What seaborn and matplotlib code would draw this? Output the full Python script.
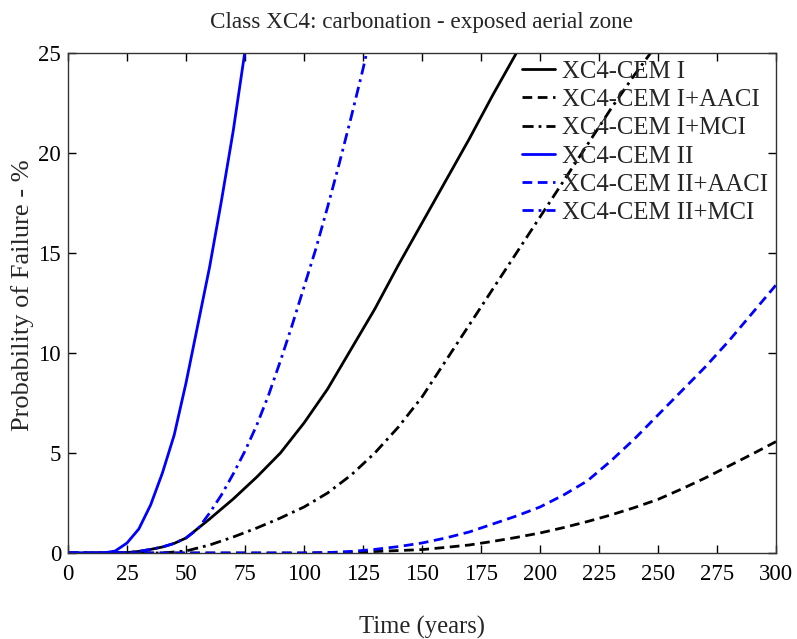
import matplotlib
matplotlib.use("Agg")
import matplotlib.pyplot as plt
import seaborn as sns
import pandas as pd

# ---- data ----
years_cem1 = [0, 20, 25, 30, 35, 40, 45, 50, 60, 70, 80, 90, 100, 110, 120, 130, 140,
              150, 160, 170, 180, 190, 200]
cem1 = [0, 0, 0.02, 0.08, 0.18, 0.3, 0.48, 0.75, 1.7, 2.7, 3.8, 5.0, 6.5, 8.2, 10.2,
        12.2, 14.4, 16.5, 18.6, 20.7, 22.9, 25.0, 27.2]

years_cem1_aaci = [0, 100, 125, 150, 160, 170, 180, 190, 200, 210, 220, 230, 240, 250,
                   260, 270, 280, 290, 300]
cem1_aaci = [0, 0, 0.05, 0.17, 0.28, 0.4, 0.58, 0.78, 1.0, 1.27, 1.57, 1.9, 2.27, 2.68,
             3.2, 3.75, 4.35, 4.95, 5.57]

years_cem1_mci = [0, 40, 50, 60, 70, 80, 90, 100, 110, 120, 130, 140, 150, 160, 170,
                  180, 190, 200, 210, 220, 230, 240, 250, 260]
cem1_mci = [0, 0, 0.1, 0.4, 0.8, 1.25, 1.75, 2.3, 3.0, 3.9, 5.0, 6.3, 7.8, 9.6, 11.4,
            13.2, 15.0, 16.8, 18.6, 20.4, 22.2, 23.9, 25.5, 27.2]

years_cem2 = [0, 10, 15, 20, 25, 30, 35, 40, 45, 50, 55, 60, 65, 70, 75, 80]
cem2 = [0, 0, 0.0, 0.1, 0.5, 1.2, 2.4, 4.0, 5.9, 8.5, 11.4, 14.3, 17.6, 21.1, 25.1, 29.0]

years_cem2_aaci = [0, 100, 110, 120, 130, 140, 150, 160, 170, 180, 190, 200, 210, 220,
                   230, 240, 250, 260, 270, 280, 290, 300]
cem2_aaci = [0, 0, 0.02, 0.08, 0.18, 0.32, 0.5, 0.75, 1.05, 1.45, 1.85, 2.3, 2.9, 3.6,
             4.6, 5.7, 6.9, 8.1, 9.3, 10.6, 12.0, 13.4]

years_cem2_mci = [0, 20, 25, 30, 35, 40, 45, 50, 55, 60, 65, 70, 75, 80, 85, 90, 95,
                  100, 105, 110, 115, 120, 125, 130]
cem2_mci = [0, 0, 0.02, 0.08, 0.18, 0.3, 0.48, 0.75, 1.2, 2.0, 2.9, 3.95, 5.1, 6.4, 7.9,
            9.6, 11.4, 13.3, 15.2, 17.3, 19.5, 21.8, 24.2, 26.8]

series_names = ["XC4-CEM I", "XC4-CEM I+AACI", "XC4-CEM I+MCI",
                "XC4-CEM II", "XC4-CEM II+AACI", "XC4-CEM II+MCI"]
series_x = [years_cem1, years_cem1_aaci, years_cem1_mci,
            years_cem2, years_cem2_aaci, years_cem2_mci]
series_y = [cem1, cem1_aaci, cem1_mci, cem2, cem2_aaci, cem2_mci]

x_ticks = [0, 25, 50, 75, 100, 125, 150, 175, 200, 225, 250, 275, 300]
y_ticks = [0, 5, 10, 15, 20, 25]

# ---- styling ----
sns.set_style("ticks")
plt.rcParams["font.family"] = ["Liberation Serif", "DejaVu Serif"]
plt.rcParams["xtick.direction"] = "in"
plt.rcParams["ytick.direction"] = "in"

colors = ["black", "black", "black", "blue", "blue", "blue"]
styles = ["-", (0, (3.5, 2)), (0, (4, 1.8, 1, 1.8)), "-", (0, (3.5, 2)), (0, (4, 1.8, 1, 1.8))]

frames = []
for name, xs, ys in zip(series_names, series_x, series_y):
    frames.append(pd.DataFrame({"Time": xs, "Pf": ys, "series": name}))
df = pd.concat(frames, ignore_index=True)

fig = plt.figure(figsize=(7.97, 6.39), dpi=100)
ax = fig.add_axes([68 / 797, 1 - 553 / 639, (776 - 68) / 797, (553 - 53) / 639])

for name, c, ls in zip(series_names, colors, styles):
    sub = df[df["series"] == name]
    sns.lineplot(data=sub, x="Time", y="Pf", ax=ax, color=c, linewidth=2.0,
                 label=name, estimator=None, sort=False)
    ax.lines[-1].set_linestyle(ls)

ax.set_xlim(0, 300)
ax.set_ylim(0, 25)
ax.set_xticks(x_ticks)
ax.set_yticks(y_ticks)
ax.tick_params(axis="both", which="both", top=True, right=True, length=6,
               width=1, labelsize=16.5, colors="black")
ax.tick_params(axis="x", pad=8)
ax.tick_params(axis="y", pad=5)
for sp in ax.spines.values():
    sp.set_linewidth(1.0)
    sp.set_color("#333333")

ax.set_title("Class XC4: carbonation - exposed aerial zone", fontsize=16.7, pad=18)
ax.set_xlabel("Time (years)", fontsize=17.7, labelpad=22)
ax.set_ylabel("Probability of Failure - %", fontsize=19)
ax.yaxis.set_label_coords(-0.048, 0.516)

leg = ax.legend(loc="upper left", bbox_to_anchor=(0.641, 0.985), frameon=False,
                fontsize=17.8, handlelength=1.34, handletextpad=0.28,
                labelspacing=0.24, borderaxespad=0, borderpad=0)
for line, ls in zip(leg.get_lines(), styles):
    line.set_linestyle(ls)

fig.savefig("out.png", dpi=100)
